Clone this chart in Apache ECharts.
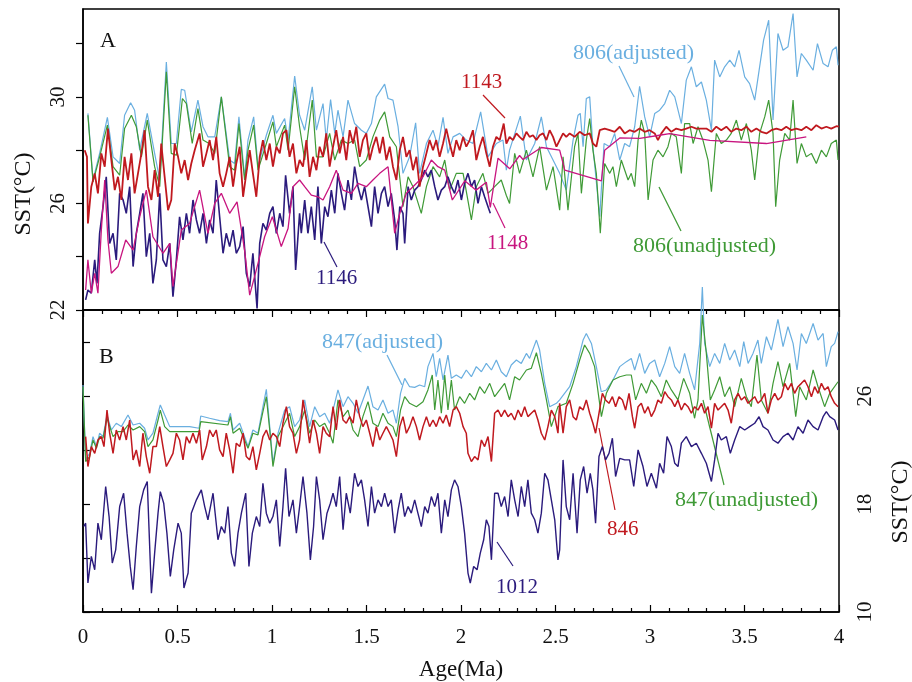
<!DOCTYPE html>
<html>
<head>
    <meta charset="utf-8">
    <title>SST records</title>
    <script src="https://cdn.jsdelivr.net/npm/echarts@6/dist/echarts.min.js"></script>
</head>
<body style="margin:0;background:#fff;">
    <div id="main" style="width:912px;height:682px;"></div>
    <script type="text/javascript">
        // [age (Ma), SST (°C)]
        // panel A
        var sst806Adj = [[0.026,29.38],[0.053,26.88],[0.088,27.88],[0.129,29.23],[0.159,27.75],[0.194,27.5],[0.220,29.31],[0.252,29.78],[0.273,29.5],[0.300,28.0],[0.340,29.38],[0.379,27.88],[0.406,26.88],[0.441,31.31],[0.467,28.25],[0.494,28.25],[0.520,30.28],[0.538,30.25],[0.573,28.69],[0.608,29.88],[0.635,28.88],[0.661,28.5],[0.697,28.5],[0.732,30.0],[0.776,27.63],[0.802,27.5],[0.825,29.25],[0.855,27.0],[0.873,28.38],[0.903,29.25],[0.926,27.38],[0.970,28.56],[1.005,29.31],[1.023,28.63],[1.067,29.19],[1.085,28.38],[1.120,30.78],[1.146,29.31],
            [1.173,28.75],[1.213,30.38],[1.235,28.75],[1.270,29.75],[1.287,28.38],[1.310,29.9],[1.332,28.63],[1.349,29.5],[1.376,28.5],[1.402,29.88],[1.437,29.0],[1.473,28.75],[1.499,28.63],[1.526,29.0],[1.552,30.0],[1.596,30.48],[1.614,29.94],[1.640,29.88],[1.667,28.88],[1.693,27.13],[1.728,27.75],[1.760,29.03],[1.781,27.13],[1.817,28.25],[1.852,28.75],[1.878,28.13],[1.905,29.23],[1.931,27.88],[1.958,28.5],[1.993,28.63],[2.028,28.38],[2.063,28.25],[2.104,29.44],[2.143,27.75],[2.187,28.25],[2.222,28.38],[2.240,27.25],[2.257,28.0],[2.314,29.28],[2.346,27.63],[2.390,28.25],[2.425,29.25],[2.452,28.13],[2.522,27.13],
            [2.557,26.5],[2.593,28.38],[2.619,29.31],[2.631,29.38],[2.646,28.13],[2.663,29.94],[2.681,30.0],[2.698,28.13],[2.734,25.5],[2.757,28.25],[2.787,28.13],[2.813,28.63],[2.840,27.63],[2.866,28.25],[2.892,28.13],[2.919,28.88],[2.945,30.4],[2.972,29.25],[2.998,28.5],[3.025,29.38],[3.051,29.5],[3.078,29.75],[3.104,30.25],[3.131,30.0],[3.166,29.0],[3.192,30.63],[3.219,31.13],[3.245,30.38],[3.272,30.56],[3.298,29.88],[3.325,28.75],[3.342,31.38],[3.369,30.75],[3.395,31.13],[3.422,31.38],[3.448,31.13],[3.471,31.75],[3.501,30.75],[3.527,30.5],[3.554,29.88],[3.580,31.13],[3.601,32.13],[3.628,32.88],[3.651,29.13],[3.677,32.38],[3.704,31.75],[3.730,31.88],[3.757,33.13],[3.778,30.75],[3.801,31.63],[3.827,31.38],[3.863,31.0],[3.886,32.0],[3.916,31.25],[3.942,31.13],[3.965,31.75],[3.986,31.88],[3.995,31.19]];

        var sst806Unadj = [[0.026,29.31],[0.053,26.81],[0.088,27.75],[0.129,28.94],[0.159,27.38],[0.194,27.06],[0.220,28.81],[0.256,29.31],[0.282,28.88],[0.309,27.75],[0.340,29.13],[0.379,27.38],[0.406,26.63],[0.441,30.94],[0.467,27.88],[0.494,27.81],[0.526,29.94],[0.547,29.75],[0.578,28.25],[0.608,29.56],[0.635,28.38],[0.667,28.25],[0.697,27.88],[0.732,30.0],[0.776,27.38],[0.802,27.25],[0.825,29.0],[0.855,26.88],[0.873,28.0],[0.903,28.94],[0.926,27.25],[0.970,28.25],[1.005,29.06],[1.023,28.13],[1.067,28.94],[1.085,28.0],[1.120,30.38],[1.146,28.88],
            [1.173,27.63],[1.213,29.88],[1.235,27.75],[1.270,27.75],[1.305,28.63],[1.332,27.63],[1.367,28.38],[1.402,28.25],[1.437,28.38],[1.464,27.38],[1.499,27.63],[1.534,28.5],[1.570,29.13],[1.596,29.44],[1.623,28.5],[1.658,28.13],[1.693,25.88],[1.720,27.0],[1.746,26.63],[1.790,25.63],[1.817,26.63],[1.852,27.38],[1.887,27.0],[1.914,27.63],[1.940,26.5],[1.975,27.13],[2.011,27.13],[2.055,25.38],[2.081,26.63],[2.116,27.13],[2.143,26.38],[2.178,26.63],[2.213,26.88],[2.240,26.3],[2.257,26.0],[2.284,27.88],[2.310,27.13],[2.346,28.0],[2.381,27.0],[2.416,28.13],[2.452,26.5],[2.487,27.38],[2.522,25.75],
            [2.540,27.75],[2.566,25.75],[2.601,28.13],[2.619,28.63],[2.637,26.38],[2.663,28.38],[2.681,29.19],[2.698,28.0],[2.716,27.13],[2.737,24.88],[2.760,27.5],[2.787,27.13],[2.804,27.38],[2.822,26.63],[2.848,27.63],[2.884,26.88],[2.901,27.13],[2.919,26.63],[2.937,28.38],[2.954,29.13],[2.972,28.63],[2.990,26.13],[3.016,27.63],[3.042,28.0],[3.069,27.75],[3.095,28.13],[3.113,28.63],[3.139,28.5],[3.166,27.13],[3.183,29.0],[3.210,29.0],[3.228,28.25],[3.254,28.88],[3.280,28.38],[3.307,27.63],[3.325,26.44],[3.351,28.63],[3.377,28.25],[3.404,28.38],[3.430,28.63],[3.457,29.13],[3.483,28.38],[3.510,29.0],[3.536,28.0],[3.554,26.88],[3.580,28.63],[3.607,29.25],[3.628,29.88],[3.651,28.63],[3.665,25.88],[3.686,27.63],[3.713,28.63],[3.739,28.38],[3.757,29.88],[3.778,27.5],[3.801,28.25],[3.827,27.75],[3.854,27.88],[3.880,27.5],[3.907,28.0],[3.933,27.75],[3.959,28.25],[3.986,28.38],[3.995,27.63]];

        var sst1143 = [[0.009,28.0],[0.021,27.75],[0.026,25.25],[0.044,26.63],[0.062,27.13],[0.079,26.38],[0.097,27.88],[0.115,27.38],[0.132,28.81],[0.150,27.63],[0.168,26.5],[0.185,27.0],[0.203,26.13],[0.220,27.75],[0.238,26.88],[0.256,27.88],[0.273,26.38],[0.291,27.13],[0.309,27.88],[0.326,28.75],[0.344,26.63],[0.362,26.13],[0.379,27.25],[0.397,26.25],[0.414,28.25],[0.432,27.0],[0.450,25.75],[0.467,26.13],[0.485,28.25],[0.503,27.75],[0.520,27.13],[0.538,27.63],[0.556,26.88],[0.573,27.5],[0.591,28.0],[0.617,28.63],[0.635,27.38],[0.653,27.88],[0.670,28.38],[0.688,27.63],[0.705,28.5],[0.723,27.13],[0.741,26.63],[0.758,27.13],[0.776,27.75],[0.794,26.63],[0.811,27.5],[0.829,28.13],[0.847,26.25],[0.864,27.13],[0.882,28.0],[0.899,27.13],[0.917,26.25],[0.935,27.75],[0.952,28.38],[0.970,27.63],[0.988,28.25],[1.005,27.38],[1.023,28.13],[1.041,27.88],[1.058,28.63],[1.076,28.75],[1.093,27.75],[1.111,28.25],[1.129,27.13],[1.146,27.63],
            [1.164,27.38],[1.182,28.38],[1.199,27.0],[1.217,27.75],[1.235,27.25],[1.252,28.13],[1.270,27.75],[1.287,28.63],[1.305,27.38],[1.323,28.13],[1.340,28.75],[1.358,27.88],[1.376,28.5],[1.393,27.63],[1.411,28.75],[1.429,28.25],[1.446,28.88],[1.464,27.75],[1.481,28.38],[1.499,28.63],[1.517,27.63],[1.534,28.13],[1.552,28.5],[1.570,27.88],[1.587,28.5],[1.605,27.63],[1.623,28.13],[1.640,27.38],[1.658,26.88],[1.676,28.0],[1.693,28.5],[1.711,27.75],[1.728,28.0],[1.746,27.25],[1.764,27.75],[1.781,26.63],[1.799,27.38],[1.817,27.88],[1.834,28.38],[1.852,28.0],[1.869,28.38],[1.887,27.75],[1.905,28.25],[1.922,28.81],[1.940,28.25],[1.958,27.75],[1.975,28.38],[1.993,28.0],[2.011,28.5],[2.028,28.13],[2.046,28.38],[2.063,28.75],[2.081,27.63],[2.099,28.13],[2.116,28.5],[2.134,27.88],[2.152,27.38],[2.169,28.13],[2.187,28.5],[2.205,28.38],[2.226,29.0],[2.240,28.25],[2.257,28.5],[2.275,28.38],[2.293,28.63],[2.310,28.5],[2.328,28.38],[2.346,28.69],[2.363,28.5],[2.381,28.56],[2.399,28.38],[2.416,28.56],[2.434,28.63],[2.452,28.38],[2.469,28.75],[2.487,28.5],[2.505,28.13],[2.522,28.38],
            [2.540,28.63],[2.557,28.5],[2.575,28.63],[2.601,28.5],[2.628,28.69],[2.654,28.56],[2.681,28.63],[2.698,28.25],[2.716,28.13],[2.734,28.75],[2.760,28.81],[2.787,28.75],[2.813,28.69],[2.840,28.88],[2.866,28.63],[2.892,28.75],[2.919,28.69],[2.945,28.81],[2.972,28.69],[2.998,28.75],[3.025,28.63],[3.042,28.38],[3.060,28.63],[3.086,28.88],[3.113,28.69],[3.139,28.81],[3.166,28.75],[3.192,28.81],[3.219,28.88],[3.245,28.81],[3.272,28.81],[3.298,28.81],[3.325,28.69],[3.351,28.88],[3.377,28.75],[3.404,28.88],[3.430,28.69],[3.457,28.81],[3.483,28.75],[3.510,28.88],[3.536,28.69],[3.563,28.81],[3.589,28.69],[3.616,28.63],[3.642,28.75],[3.669,28.81],[3.695,28.75],[3.721,28.88],[3.748,28.75],[3.774,28.81],[3.801,28.75],[3.827,28.88],[3.854,28.75],[3.880,28.94],[3.907,28.81],[3.933,28.88],[3.959,28.81],[3.986,28.9],[4.0,28.88]];

        var sst1146 = [[0.014,22.38],[0.026,22.75],[0.044,22.63],[0.062,23.88],[0.074,23.0],[0.088,24.88],[0.106,25.88],[0.123,27.0],[0.141,24.5],[0.159,24.88],[0.176,23.88],[0.194,26.38],[0.212,26.13],[0.229,25.63],[0.247,26.63],[0.265,23.63],[0.282,24.88],[0.300,25.63],[0.317,26.38],[0.335,24.0],[0.353,24.88],[0.370,23.0],[0.388,23.88],[0.406,26.38],[0.423,23.88],[0.441,23.63],[0.459,24.5],[0.476,22.5],[0.494,23.88],[0.511,25.5],[0.529,24.63],[0.547,25.63],[0.564,24.88],[0.582,26.13],[0.600,25.38],[0.617,24.88],[0.635,25.63],[0.653,24.5],[0.670,25.38],[0.688,24.88],[0.705,26.88],[0.723,25.5],[0.741,24.13],[0.758,24.88],[0.776,24.38],[0.794,25.0],[0.811,24.13],[0.829,24.38],[0.847,25.13],[0.864,23.38],[0.882,22.88],[0.899,24.13],[0.921,22.06],[0.935,24.5],[0.952,25.25],[0.970,25.0],[0.988,25.63],[1.005,25.88],[1.023,24.88],[1.041,25.63],[1.058,25.13],[1.072,27.06],[1.093,25.63],[1.111,26.63],[1.125,23.5],[1.146,25.63],
            [1.155,24.88],[1.173,26.13],[1.190,24.88],[1.208,25.88],[1.226,24.63],[1.243,26.63],[1.261,24.5],[1.279,25.88],[1.296,25.5],[1.314,26.5],[1.332,25.63],[1.349,27.13],[1.367,26.38],[1.384,25.75],[1.402,26.88],[1.420,26.13],[1.437,27.38],[1.455,26.63],[1.473,26.13],[1.490,26.63],[1.508,25.88],[1.526,25.13],[1.543,26.63],[1.561,25.63],[1.579,26.38],[1.596,26.63],[1.614,25.88],[1.631,26.38],[1.649,25.38],[1.661,24.25],[1.676,25.88],[1.693,25.63],[1.702,24.5],[1.720,26.63],[1.737,26.13],[1.755,26.5],[1.772,26.63],[1.790,26.88],[1.808,27.25],[1.825,27.0],[1.843,27.25],[1.861,26.63],[1.878,26.13],[1.896,26.5],[1.914,26.63],[1.931,27.0],[1.949,26.63],[1.966,26.38],[1.984,26.88],[2.002,26.13],[2.019,26.75],[2.037,27.13],[2.055,26.63],[2.072,26.88],[2.090,26.0],[2.108,26.63],[2.125,26.25],[2.143,25.88],[2.155,25.63]];

        var sst1148 = [[0.014,22.75],[0.026,23.88],[0.044,22.63],[0.062,23.38],[0.079,22.63],[0.097,25.0],[0.115,26.88],[0.132,24.63],[0.150,23.38],[0.185,23.63],[0.226,24.63],[0.265,24.25],[0.300,25.5],[0.335,26.5],[0.370,24.75],[0.423,24.13],[0.459,24.5],[0.476,22.88],[0.520,25.0],[0.564,25.25],[0.617,26.5],[0.661,24.88],[0.697,26.0],[0.732,26.38],[0.776,25.63],[0.815,26.06],[0.855,24.25],[0.882,22.56],[0.926,23.75],[0.961,24.75],[1.002,25.5],[1.049,24.38],[1.085,25.06],[1.111,26.63],[1.146,26.88],
            [1.173,26.63],[1.208,26.31],[1.243,26.25],[1.270,26.13],[1.305,26.63],[1.340,27.25],[1.376,26.5],[1.420,26.38],[1.455,26.75],[1.499,26.63],[1.534,26.88],[1.570,27.13],[1.614,27.38],[1.649,24.88],[1.676,25.63],[1.711,26.38],[1.746,26.63],[1.799,27.0],[1.843,27.63],[1.878,27.38],[1.914,27.25],[1.954,26.13],[2.02,26.85],[2.08,26.5],[2.134,26.8],[2.155,25.85],[2.196,27.7],[2.258,27.3],[2.31,27.8],[2.328,27.65],[2.425,28.1],[2.522,28.0],[2.549,27.25],[2.743,26.85],[2.76,28.0],[2.84,28.46],[2.946,28.44],[3.05,28.56],[3.104,28.62],[3.316,28.37],[3.616,28.25],[3.827,28.5]];

        // panel B
        var sst847Adj = [[0.0,26.84],[0.014,21.28],[0.035,21.77],[0.053,23.01],[0.071,22.27],[0.088,23.26],[0.106,23.01],[0.127,24.61],[0.150,23.50],[0.176,24.0],[0.203,23.75],[0.238,24.61],[0.265,23.87],[0.300,24.0],[0.326,23.63],[0.344,22.76],[0.370,23.26],[0.397,24.74],[0.409,25.36],[0.432,24.61],[0.459,23.75],[0.511,23.75],[0.564,23.75],[0.614,23.63],[0.623,24.54],[0.670,24.37],[0.723,24.19],[0.767,24.12],[0.780,24.74],[0.794,23.50],[0.829,24.0],[0.873,22.27],[0.899,23.50],[0.926,23.26],[0.952,25.23],[0.970,26.52],[0.988,23.75],[1.005,21.03],[1.032,23.26],
            [1.067,24.98],[1.093,25.23],[1.120,23.75],[1.146,24.24],[1.173,25.73],[1.199,23.75],[1.226,25.23],[1.252,24.49],[1.279,24.74],[1.305,24.0],[1.323,24.98],[1.349,26.47],[1.376,25.23],[1.402,25.97],[1.429,25.48],[1.455,24.74],[1.481,25.73],[1.508,26.76],[1.534,25.23],[1.561,24.98],[1.587,25.73],[1.614,24.74],[1.640,24.98],[1.658,24.0],[1.680,26.22],[1.702,27.33],[1.728,26.71],[1.755,26.66],[1.781,26.84],[1.808,26.71],[1.825,28.20],[1.852,29.18],[1.869,27.45],[1.887,28.81],[1.905,27.21],[1.931,29.06],[1.949,27.33],[1.975,27.58],[2.002,27.33],[2.028,27.95],[2.055,27.45],[2.081,28.20],[2.108,27.82],[2.134,28.44],[2.161,27.95],[2.187,28.69],[2.213,27.82],[2.240,27.45],[2.266,28.32],[2.293,28.69],[2.319,28.44],[2.346,29.18],[2.363,28.81],[2.399,30.17],[2.416,29.43],[2.443,26.96],[2.469,25.23],[2.505,25.48],[2.522,25.73],
            [2.575,26.71],[2.610,28.20],[2.646,30.17],[2.663,30.66],[2.690,29.92],[2.716,28.20],[2.742,26.34],[2.769,26.47],[2.804,27.21],[2.840,28.20],[2.875,28.57],[2.901,28.81],[2.919,27.95],[2.945,29.18],[2.972,27.70],[2.998,28.44],[3.025,28.69],[3.051,27.45],[3.078,28.44],[3.104,29.68],[3.131,28.20],[3.157,27.70],[3.183,29.18],[3.210,27.70],[3.236,26.47],[3.263,29.92],[3.277,34.1],[3.289,29.92],[3.316,28.20],[3.342,29.18],[3.369,28.44],[3.395,29.92],[3.422,28.69],[3.448,29.43],[3.475,28.20],[3.496,30.05],[3.519,28.44],[3.545,29.18],[3.571,30.17],[3.589,28.44],[3.616,30.42],[3.642,29.43],[3.677,31.70],[3.704,29.68],[3.730,31.16],[3.757,29.92],[3.778,27.95],[3.801,30.66],[3.827,29.92],[3.863,31.40],[3.889,30.17],[3.916,30.66],[3.933,28.20],[3.959,29.68],[3.977,29.92],[3.995,30.79]];

        var sst847Unadj = [[0.0,26.71],[0.014,21.16],[0.035,21.53],[0.053,22.76],[0.071,22.14],[0.088,23.01],[0.106,22.89],[0.127,24.37],[0.159,23.01],[0.185,23.38],[0.212,23.38],[0.238,23.87],[0.265,23.50],[0.300,23.75],[0.326,23.38],[0.344,22.27],[0.370,22.76],[0.397,24.24],[0.409,24.98],[0.432,23.75],[0.459,23.38],[0.511,23.38],[0.614,23.38],[0.623,24.12],[0.767,23.87],[0.780,24.49],[0.794,23.26],[0.829,23.63],[0.873,22.14],[0.899,23.26],[0.926,23.13],[0.952,24.86],[0.970,25.97],[0.988,23.50],[1.005,20.79],[1.032,23.01],
            [1.067,24.0],[1.093,24.74],[1.120,23.01],[1.146,23.75],[1.173,24.98],[1.199,23.26],[1.226,24.24],[1.252,23.75],[1.279,24.0],[1.305,23.26],[1.323,22.52],[1.349,25.73],[1.376,24.49],[1.402,24.98],[1.429,23.50],[1.455,23.01],[1.481,24.49],[1.508,25.60],[1.534,24.0],[1.561,23.75],[1.587,24.74],[1.614,24.0],[1.640,23.75],[1.658,23.01],[1.680,24.98],[1.702,25.97],[1.728,25.48],[1.764,25.23],[1.799,25.60],[1.825,26.47],[1.848,27.58],[1.861,24.98],[1.878,27.21],[1.896,24.74],[1.914,27.58],[1.931,24.98],[1.949,27.21],[1.966,24.98],[1.993,25.97],[2.019,25.48],[2.046,26.22],[2.072,25.73],[2.099,26.71],[2.125,26.22],[2.152,26.96],[2.178,25.97],[2.205,26.47],[2.231,26.96],[2.257,25.73],[2.284,27.45],[2.310,27.21],[2.346,27.95],[2.372,28.07],[2.399,29.23],[2.425,27.70],[2.452,25.73],[2.478,23.75],[2.513,25.23],
            [2.522,25.23],[2.557,25.48],[2.593,26.96],[2.628,28.69],[2.654,29.80],[2.681,29.18],[2.707,28.20],[2.743,24.49],[2.769,26.22],[2.804,27.21],[2.840,27.45],[2.875,27.58],[2.901,27.58],[2.924,25.73],[2.954,26.96],[2.981,26.22],[3.007,27.21],[3.034,26.71],[3.060,25.97],[3.086,27.21],[3.113,26.47],[3.148,25.73],[3.178,27.33],[3.210,26.22],[3.236,24.37],[3.254,25.73],[3.277,32.02],[3.298,29.18],[3.319,25.73],[3.342,26.47],[3.369,27.45],[3.395,25.97],[3.422,26.71],[3.448,25.23],[3.483,27.33],[3.510,25.97],[3.536,25.23],[3.566,29.06],[3.589,25.73],[3.624,24.74],[3.651,26.96],[3.677,28.57],[3.704,26.71],[3.739,28.44],[3.771,24.49],[3.792,26.71],[3.827,25.73],[3.863,27.95],[3.889,26.71],[3.924,25.23],[3.951,26.22],[3.995,27.08]];

        var sst846 = [[0.014,23.01],[0.026,20.79],[0.044,22.27],[0.062,21.77],[0.079,22.76],[0.097,23.01],[0.111,22.27],[0.127,24.98],[0.141,23.26],[0.159,21.77],[0.176,23.50],[0.194,22.76],[0.212,23.75],[0.229,22.76],[0.247,24.24],[0.265,21.28],[0.282,22.02],[0.300,20.79],[0.317,23.26],[0.335,21.53],[0.353,20.29],[0.370,22.27],[0.388,22.27],[0.406,23.75],[0.423,22.27],[0.441,20.79],[0.459,21.28],[0.476,21.77],[0.494,23.26],[0.511,22.76],[0.529,21.28],[0.547,23.01],[0.564,22.52],[0.582,23.26],[0.600,22.52],[0.617,23.50],[0.631,21.28],[0.653,22.27],[0.670,23.50],[0.688,23.01],[0.705,23.50],[0.723,22.02],[0.741,21.53],[0.758,23.26],[0.776,22.02],[0.794,20.29],[0.811,22.52],[0.829,22.27],[0.847,23.26],[0.864,21.53],[0.882,21.28],[0.899,22.27],[0.917,20.54],[0.935,21.77],[0.952,23.01],[0.970,23.50],[0.988,22.76],[1.005,23.26],[1.023,23.01],[1.041,22.27],[1.058,24.0],[1.076,25.23],[1.093,23.75],[1.111,23.26],[1.129,21.77],[1.146,22.76],
            [1.164,25.73],[1.182,24.24],[1.199,22.52],[1.217,24.24],[1.235,23.26],[1.252,21.77],[1.270,23.75],[1.287,23.26],[1.305,23.01],[1.323,25.23],[1.340,23.50],[1.358,25.73],[1.376,24.24],[1.393,24.0],[1.411,24.49],[1.429,24.0],[1.446,25.73],[1.464,24.49],[1.481,23.75],[1.499,24.24],[1.517,23.26],[1.534,22.27],[1.552,23.75],[1.570,22.76],[1.587,23.26],[1.605,23.75],[1.623,23.26],[1.640,22.76],[1.658,21.53],[1.676,23.75],[1.693,24.49],[1.711,23.26],[1.728,23.75],[1.746,24.49],[1.764,23.75],[1.781,22.76],[1.799,23.75],[1.817,24.49],[1.834,23.75],[1.852,24.24],[1.869,23.75],[1.887,24.49],[1.905,24.0],[1.922,24.61],[1.940,23.75],[1.958,24.98],[1.975,25.23],[1.993,24.74],[2.011,23.75],[2.028,23.26],[2.037,21.77],[2.055,21.16],[2.072,21.53],[2.090,21.28],[2.108,22.76],[2.125,22.27],[2.143,23.01],[2.161,21.16],[2.178,24.74],[2.196,24.98],[2.213,24.49],[2.231,24.98],[2.249,24.49],[2.266,24.74],[2.284,24.24],[2.302,24.98],[2.319,24.49],[2.337,25.23],[2.354,24.49],[2.372,24.74],[2.390,24.98],[2.407,24.24],[2.425,23.26],[2.443,22.76],[2.460,23.75],[2.478,24.98],[2.496,24.49],[2.513,23.26],
            [2.522,25.48],[2.540,23.26],[2.557,25.23],[2.575,25.73],[2.593,24.49],[2.610,24.24],[2.628,25.23],[2.646,24.98],[2.663,25.73],[2.681,24.74],[2.698,24.0],[2.712,23.26],[2.730,24.74],[2.748,26.22],[2.765,25.73],[2.783,25.48],[2.801,25.97],[2.818,25.23],[2.836,25.97],[2.854,25.73],[2.871,24.98],[2.889,26.22],[2.907,24.49],[2.919,23.63],[2.937,25.23],[2.954,25.48],[2.972,24.74],[2.990,25.23],[3.007,24.49],[3.025,24.98],[3.042,25.73],[3.060,25.48],[3.078,26.34],[3.095,25.97],[3.113,25.73],[3.131,25.23],[3.148,25.73],[3.166,24.98],[3.183,25.48],[3.201,25.23],[3.219,24.74],[3.236,25.23],[3.254,24.98],[3.272,25.48],[3.289,24.74],[3.307,25.23],[3.325,23.63],[3.342,25.48],[3.360,24.98],[3.377,25.23],[3.395,25.48],[3.413,24.98],[3.430,24.0],[3.448,25.73],[3.466,26.22],[3.483,25.73],[3.501,25.97],[3.519,25.48],[3.536,25.73],[3.554,25.97],[3.571,25.48],[3.589,25.73],[3.607,26.22],[3.624,24.74],[3.642,25.73],[3.660,26.22],[3.677,25.73],[3.695,25.97],[3.713,26.96],[3.730,26.47],[3.748,26.96],[3.765,26.22],[3.783,26.71],[3.801,26.96],[3.818,27.21],[3.836,26.71],[3.854,25.97],[3.871,26.71],[3.889,26.22],[3.907,26.96],[3.924,26.47],[3.942,26.71],[3.959,25.97],[3.977,25.48],[3.995,25.23]];

        var sst1012 = [[0.004,16.34],[0.014,16.59],[0.026,12.15],[0.044,14.12],[0.062,13.13],[0.079,16.59],[0.097,15.36],[0.120,19.31],[0.138,17.08],[0.155,13.63],[0.173,14.61],[0.194,17.82],[0.215,18.81],[0.233,15.85],[0.250,13.38],[0.265,11.65],[0.282,14.86],[0.300,17.82],[0.321,19.06],[0.340,19.68],[0.362,11.40],[0.379,14.37],[0.397,17.33],[0.409,18.93],[0.427,18.07],[0.444,15.85],[0.462,12.64],[0.480,14.61],[0.503,16.59],[0.520,15.85],[0.534,11.78],[0.556,12.89],[0.573,17.33],[0.600,18.32],[0.626,19.06],[0.644,17.82],[0.661,16.84],[0.688,18.81],[0.714,15.36],[0.732,16.34],[0.750,15.85],[0.767,17.82],[0.785,14.37],[0.802,13.38],[0.820,15.85],[0.838,17.33],[0.861,18.81],[0.878,13.38],[0.896,15.85],[0.917,17.08],[0.935,16.34],[0.952,19.55],[0.970,17.33],[0.988,16.59],[1.005,17.08],[1.023,18.32],[1.041,14.86],[1.058,17.82],[1.072,20.66],[1.090,17.08],[1.111,18.32],[1.129,15.85],[1.146,17.82],
            [1.164,20.05],[1.185,17.33],[1.203,13.87],[1.220,16.34],[1.235,20.05],[1.252,18.32],[1.270,15.36],[1.291,17.33],[1.309,18.07],[1.323,18.81],[1.340,17.82],[1.358,20.05],[1.376,16.10],[1.393,18.81],[1.414,17.33],[1.437,20.29],[1.455,19.31],[1.473,19.80],[1.490,18.32],[1.508,16.34],[1.526,19.31],[1.543,17.33],[1.561,18.32],[1.579,17.82],[1.596,18.81],[1.614,17.82],[1.631,18.32],[1.649,15.85],[1.667,17.58],[1.684,18.81],[1.702,17.08],[1.720,17.82],[1.737,17.33],[1.755,18.32],[1.772,17.33],[1.790,16.34],[1.808,17.82],[1.825,17.33],[1.843,18.56],[1.861,17.82],[1.878,18.81],[1.896,15.85],[1.914,18.32],[1.931,17.08],[1.949,19.06],[1.966,19.80],[1.984,19.31],[2.002,17.82],[2.019,15.85],[2.037,12.89],[2.049,12.15],[2.067,13.38],[2.085,13.13],[2.102,14.37],[2.120,15.36],[2.134,16.84],[2.148,16.34],[2.161,13.87],[2.178,18.81],[2.196,18.81],[2.213,17.82],[2.231,18.56],[2.249,17.08],[2.266,19.80],[2.284,18.32],[2.302,17.08],[2.319,19.31],[2.337,17.82],[2.354,19.80],[2.372,17.33],[2.390,16.84],[2.407,15.85],[2.425,17.33],[2.443,20.29],[2.460,19.80],[2.478,18.32],[2.496,16.84],[2.513,13.87],
            [2.522,14.61],[2.540,21.28],[2.557,17.82],[2.575,16.84],[2.593,20.29],[2.614,15.85],[2.631,19.80],[2.649,20.79],[2.667,18.81],[2.684,20.29],[2.698,19.06],[2.712,16.59],[2.730,21.53],[2.748,22.27],[2.765,21.28],[2.783,21.77],[2.801,22.89],[2.818,20.05],[2.840,21.40],[2.866,21.28],[2.892,21.28],[2.914,19.31],[2.937,22.02],[2.963,20.79],[2.984,19.31],[3.007,20.29],[3.034,19.18],[3.051,21.03],[3.072,20.29],[3.090,23.01],[3.113,22.27],[3.131,21.03],[3.148,20.79],[3.166,22.52],[3.192,23.01],[3.219,22.27],[3.245,22.52],[3.272,21.77],[3.298,21.03],[3.325,19.68],[3.342,21.28],[3.360,23.26],[3.377,22.76],[3.404,23.01],[3.425,21.77],[3.448,22.76],[3.475,23.75],[3.501,23.50],[3.527,23.75],[3.554,24.0],[3.577,24.49],[3.598,23.75],[3.624,23.50],[3.651,22.76],[3.677,22.52],[3.704,23.01],[3.730,23.26],[3.757,22.76],[3.783,23.75],[3.810,23.26],[3.836,24.24],[3.863,23.75],[3.889,23.50],[3.916,24.49],[3.933,24.86],[3.951,24.49],[3.977,24.24],[3.995,23.50]];

        var ticksA = [22, 24, 26, 28, 30, 32];
        var labelsA = [22, 26, 30];
        var ticksB = [10, 14, 18, 22, 26, 30];
        var labelsB = [10, 18, 26];

        var BLUE = '#6aafe0', GREEN = '#3f9a36', RED = '#c0191f', PINK = '#c8157f', NAVY = '#2b1b7d';
        var SERIF = '"Liberation Serif", "Times New Roman", serif';

        var myChart = echarts.init(document.getElementById('main'));

        function lineSeries(name, data, color, width, panel) {
            return {
                name: name, type: 'line', data: data,
                xAxisIndex: panel, yAxisIndex: panel,
                symbol: 'none', clip: false,
                lineStyle: {color: color, width: width},
                z: 2
            };
        }

        function label(text, x, y, color, size, rot) {
            return {
                type: 'text', x: x, y: y, rotation: rot || 0,
                style: {text: text, fill: color, font: (size || 21) + 'px ' + SERIF,
                        textAlign: rot ? 'center' : 'left', textVerticalAlign: 'middle'}
            };
        }
        function leader(x1, y1, x2, y2, color) {
            return {type: 'line', shape: {x1: x1, y1: y1, x2: x2, y2: y2},
                    style: {stroke: color, lineWidth: 1.2}};
        }

        var tickStyle = {color: '#000', width: 1.2};

        option = {
            animation: false,
            grid: [
                {left: 83, top: 9, width: 756, height: 301, show: true, borderColor: '#000', borderWidth: 1.5},
                {left: 83, top: 310, width: 756, height: 302, show: true, borderColor: '#000', borderWidth: 1.5}
            ],
            xAxis: [
                {gridIndex: 0, type: 'value', min: 0, max: 4, show: false},
                {gridIndex: 1, type: 'value', min: 0, max: 4, interval: 0.5, position: 'bottom',
                 axisLine: {lineStyle: {color: '#000', width: 1.5}},
                 axisTick: {inside: true, length: 7, lineStyle: tickStyle},
                 minorTick: {show: true, splitNumber: 5, length: 4, lineStyle: tickStyle},
                 axisLabel: {color: '#111', fontFamily: SERIF, fontSize: 21, margin: 15},
                 splitLine: {show: false},
                 name: 'Age(Ma)', nameLocation: 'middle', nameGap: 46,
                 nameTextStyle: {color: '#111', fontFamily: SERIF, fontSize: 23}},
                {gridIndex: 1, type: 'value', min: 0, max: 4, interval: 0.5, position: 'top',
                 axisLine: {lineStyle: {color: '#000', width: 1.5}},
                 axisTick: {inside: true, length: 7, lineStyle: tickStyle},
                 minorTick: {show: true, splitNumber: 5, length: 4, lineStyle: tickStyle},
                 axisLabel: {show: false}, splitLine: {show: false}}
            ],
            yAxis: [
                {gridIndex: 0, type: 'value', min: 22, max: 33.3, position: 'left',
                 axisLine: {show: true, lineStyle: {color: '#000', width: 1.5}},
                 axisTick: {show: true, length: 7, customValues: ticksA, lineStyle: tickStyle},
                 axisLabel: {customValues: labelsA, rotate: 90, color: '#111', fontFamily: SERIF, fontSize: 21, margin: 14},
                 splitLine: {show: false}},
                {gridIndex: 1, type: 'value', min: 10, max: 32.4, position: 'right',
                 axisLine: {show: true, lineStyle: {color: '#000', width: 1.5}},
                 axisTick: {show: true, length: 7, customValues: ticksB, lineStyle: tickStyle},
                 axisLabel: {customValues: labelsB, rotate: 90, color: '#111', fontFamily: SERIF, fontSize: 21, margin: 16},
                 splitLine: {show: false}}
            ],
            series: [
                lineSeries('806(adjusted)', sst806Adj, BLUE, 1.2, 0),
                lineSeries('806(unadjusted)', sst806Unadj, GREEN, 1.2, 0),
                lineSeries('1146', sst1146, NAVY, 1.6, 0),
                lineSeries('1143', sst1143, RED, 1.8, 0),
                lineSeries('1148', sst1148, PINK, 1.3, 0),
                lineSeries('847(adjusted)', sst847Adj, BLUE, 1.2, 1),
                lineSeries('847(unadjusted)', sst847Unadj, GREEN, 1.2, 1),
                lineSeries('846', sst846, RED, 1.5, 1),
                lineSeries('1012', sst1012, NAVY, 1.4, 1)
            ],
            graphic: [
                label('A', 100, 41, '#111', 22),
                label('B', 99, 357, '#111', 22),
                label('SST(°C)', 24, 194, '#111', 24, Math.PI / 2),
                label('SST(°C)', 901, 502, '#111', 24, Math.PI / 2),
                label('806(adjusted)', 573, 53, BLUE, 22),
                leader(619, 66, 634, 97, BLUE),
                label('1143', 461, 82, RED),
                leader(483, 95, 505, 118, RED),
                label('1148', 487, 243, PINK),
                leader(493, 203, 505, 228, PINK),
                label('1146', 316, 278, NAVY),
                leader(324, 242, 337, 267, NAVY),
                label('806(unadjusted)', 633, 246, GREEN, 22),
                leader(659, 187, 681, 231, GREEN),
                label('847(adjusted)', 322, 342, BLUE, 22),
                leader(387, 355, 402, 385, BLUE),
                label('1012', 496, 587, NAVY),
                leader(497, 542, 513, 566, NAVY),
                label('846', 607, 529, RED),
                leader(599, 428, 615, 510, RED),
                label('847(unadjusted)', 675, 500, GREEN, 22),
                leader(703, 400, 724, 485, GREEN)
            ]
        };

        myChart.setOption(option);
    </script>
</body>
</html>
